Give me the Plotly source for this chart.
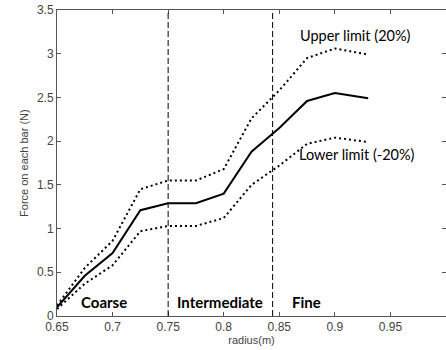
import plotly.graph_objects as go

radius = [0.65, 0.675, 0.70, 0.725, 0.75, 0.775, 0.80, 0.825, 0.85, 0.875, 0.90, 0.93]
force = [0.10, 0.46, 0.72, 1.21, 1.29, 1.29, 1.40, 1.88, 2.15, 2.46, 2.55, 2.49]
upper = [0.12, 0.55, 0.86, 1.45, 1.55, 1.55, 1.68, 2.26, 2.58, 2.95, 3.06, 2.99]
lower = [0.08, 0.37, 0.58, 0.97, 1.03, 1.03, 1.12, 1.50, 1.72, 1.97, 2.04, 1.99]
boundaries = [0.75, 0.844]
x_ticks = [0.65, 0.7, 0.75, 0.8, 0.85, 0.9, 0.95, 1.0]
x_labels = ["0.65", "0.7", "0.75", "0.8", "0.85", "0.9", "0.95", "1"]
y_ticks = [0, 0.5, 1, 1.5, 2, 2.5, 3, 3.5]
y_labels = ["0", "0.5", "1", "1.5", "2", "2.5", "3", "3.5"]
region_labels = ["Coarse", "Intermediate", "Fine"]
region_x = [0.6925, 0.7965, 0.8745]
limit_labels = ["Upper limit (20%)", "Lower limit (-20%)"]

fig = go.Figure()
fig.add_trace(go.Scatter(x=radius, y=upper, mode="lines",
                         line=dict(color="black", width=2, dash="2px,3px"), showlegend=False))
fig.add_trace(go.Scatter(x=radius, y=lower, mode="lines",
                         line=dict(color="black", width=2, dash="2px,3px"), showlegend=False))
fig.add_trace(go.Scatter(x=radius, y=force, mode="lines",
                         line=dict(color="black", width=2), showlegend=False))

for b in boundaries:
    fig.add_shape(type="line", x0=b, x1=b, y0=0, y1=3.5, xref="x", yref="y",
                  line=dict(color="black", width=1, dash="6px,3px"))

for t, xv in zip(region_labels, region_x):
    fig.add_annotation(x=xv, y=0.16, text="<b>%s</b>" % t, showarrow=False,
                       font=dict(family="Lato", size=15, color="black"))

fig.add_annotation(x=0.919, y=3.21, text=limit_labels[0], showarrow=False,
                   font=dict(family="Lato", size=14.5, color="black"))
fig.add_annotation(x=0.920, y=1.85, text=limit_labels[1], showarrow=False,
                   font=dict(family="Lato", size=14.5, color="black"))

# y-axis title placed as an annotation to match the reference position
fig.add_annotation(xref="paper", yref="paper", x=-0.085, y=0.5, text="Force on each bar (N)",
                   textangle=-90, showarrow=False, xanchor="center", yanchor="middle",
                   font=dict(family="Liberation Sans", size=11, color="#444"))

axis_common = dict(showgrid=False, zeroline=False, showline=True, linecolor="#555",
                   linewidth=1, mirror="ticks", ticks="inside", ticklen=4,
                   tickcolor="#555", tickfont=dict(family="Liberation Sans", size=12, color="#444"))

fig.update_xaxes(range=[0.65, 1.0], tickvals=x_ticks, ticktext=x_labels,
                 title=dict(text="radius(m)", font=dict(family="Liberation Sans", size=11, color="#444"),
                            standoff=2), **axis_common)
fig.update_yaxes(range=[0, 3.5], tickvals=y_ticks, ticktext=y_labels, **axis_common)

fig.update_layout(width=446, height=350, margin=dict(l=57, r=0, t=10, b=34),
                  plot_bgcolor="white", paper_bgcolor="white")
fig.write_html("out.html")
